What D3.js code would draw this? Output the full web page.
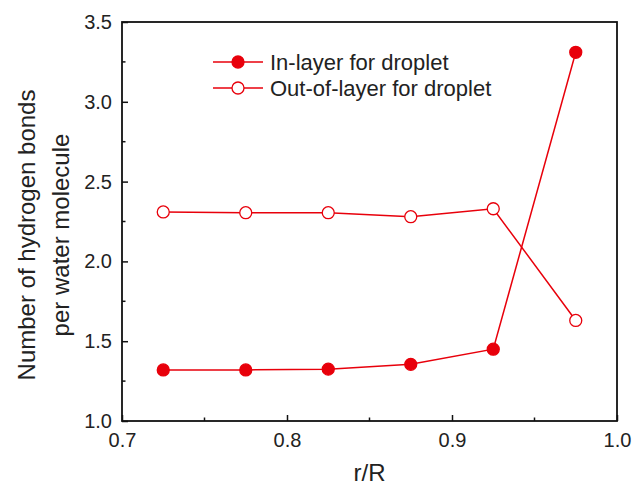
<!DOCTYPE html>
<html>
<head>
<meta charset="utf-8">
<script src="https://cdn.jsdelivr.net/npm/d3@7"></script>
<style>
  body { margin: 0; background: #fff; }
  text { font-family: Arial, "Liberation Sans", sans-serif; fill: #222; }
</style>
</head>
<body>
<svg id="chart" width="633" height="488"></svg>
<script>
var rOverR = [0.725, 0.775, 0.825, 0.875, 0.925, 0.975];
var inLayer = [1.32, 1.32, 1.325, 1.355, 1.45, 3.31];
var outLayer = [2.31, 2.305, 2.305, 2.28, 2.33, 1.63];
var seriesNames = ['In-layer for droplet', 'Out-of-layer for droplet'];
var xTicks = [0.7, 0.8, 0.9, 1.0];
var yTicks = [1.0, 1.5, 2.0, 2.5, 3.0, 3.5];

var svg = d3.select('#chart');
var pad = {t: 22, r: 16, b: 67, l: 122};
var w = 633 - pad.l - pad.r;
var h = 488 - pad.t - pad.b;
var red = '#e8000b';

var x = d3.scaleLinear().domain([0.7, 1.0]).range([pad.l, pad.l + w]);
var y = d3.scaleLinear().domain([1.0, 3.5]).range([pad.t + h, pad.t]);

// minor ticks
var xMinor = d3.range(0.75, 1.0, 0.1);
var yMinor = d3.range(1.25, 3.5, 0.5);

var gx = svg.append('g').attr('transform', 'translate(0,' + (pad.t + h) + ')')
  .call(d3.axisBottom(x).tickValues(xTicks).tickFormat(d3.format('.1f')).tickSizeInner(-6).tickSizeOuter(0).tickPadding(12));
var gy = svg.append('g').attr('transform', 'translate(' + pad.l + ',0)')
  .call(d3.axisLeft(y).tickValues(yTicks).tickFormat(d3.format('.1f')).tickSizeInner(-6).tickSizeOuter(0).tickPadding(10));

svg.append('g').attr('transform', 'translate(0,' + (pad.t + h) + ')')
  .selectAll('line').data(xMinor).join('line')
  .attr('x1', d => x(d)).attr('x2', d => x(d)).attr('y1', 0).attr('y2', -3.5)
  .attr('stroke', '#111').attr('stroke-width', 1.5);
svg.append('g')
  .selectAll('line').data(yMinor).join('line')
  .attr('x1', pad.l).attr('x2', pad.l + 3.5).attr('y1', d => y(d)).attr('y2', d => y(d))
  .attr('stroke', '#111').attr('stroke-width', 1.5);

[gx, gy].forEach(function(g) {
  g.select('.domain').remove();
  g.selectAll('.tick line').attr('stroke', '#111').attr('stroke-width', 1.5);
  g.selectAll('.tick text').style('font-size', '20px').attr('fill', '#222');
});

// frame
svg.append('rect')
  .attr('x', pad.l).attr('y', pad.t).attr('width', w).attr('height', h)
  .attr('fill', 'none').attr('stroke', '#111').attr('stroke-width', 1.8);

var line = d3.line().x(d => x(d[0])).y(d => y(d[1]));
var series = [
  {vals: inLayer, filled: true},
  {vals: outLayer, filled: false}
];

series.forEach(function(s) {
  var pts = rOverR.map((v, i) => [v, s.vals[i]]);
  svg.append('path').datum(pts)
    .attr('d', line).attr('fill', 'none').attr('stroke', red).attr('stroke-width', 1.5);
  svg.append('g').selectAll('circle').data(pts).join('circle')
    .attr('cx', d => x(d[0])).attr('cy', d => y(d[1])).attr('r', 6)
    .attr('fill', s.filled ? red : '#fff').attr('stroke', red).attr('stroke-width', 1.3);
});

// legend
var legend = svg.append('g');
series.forEach(function(s, i) {
  var ly = 62 + i * 26;
  legend.append('line').attr('x1', 213).attr('x2', 263).attr('y1', ly).attr('y2', ly)
    .attr('stroke', red).attr('stroke-width', 1.5);
  legend.append('circle').attr('cx', 238).attr('cy', ly).attr('r', 6)
    .attr('fill', s.filled ? red : '#fff').attr('stroke', red).attr('stroke-width', 1.3);
  legend.append('text').attr('x', 270).attr('y', ly + 8)
    .style('font-size', '22px').text(seriesNames[i]);
});

// axis titles
svg.append('text').attr('x', pad.l + w / 2).attr('y', 481)
  .style('text-anchor', 'middle').style('font-size', '24px').text('r/R');
var yt = svg.append('text').attr('transform', 'translate(35,235) rotate(-90)')
  .style('text-anchor', 'middle').style('font-size', '24px');
yt.append('tspan').attr('x', 0).attr('dy', 0).text('Number of hydrogen bonds');
yt.append('tspan').attr('x', 0).attr('dy', 34).text('per water molecule');
</script>
</body>
</html>
